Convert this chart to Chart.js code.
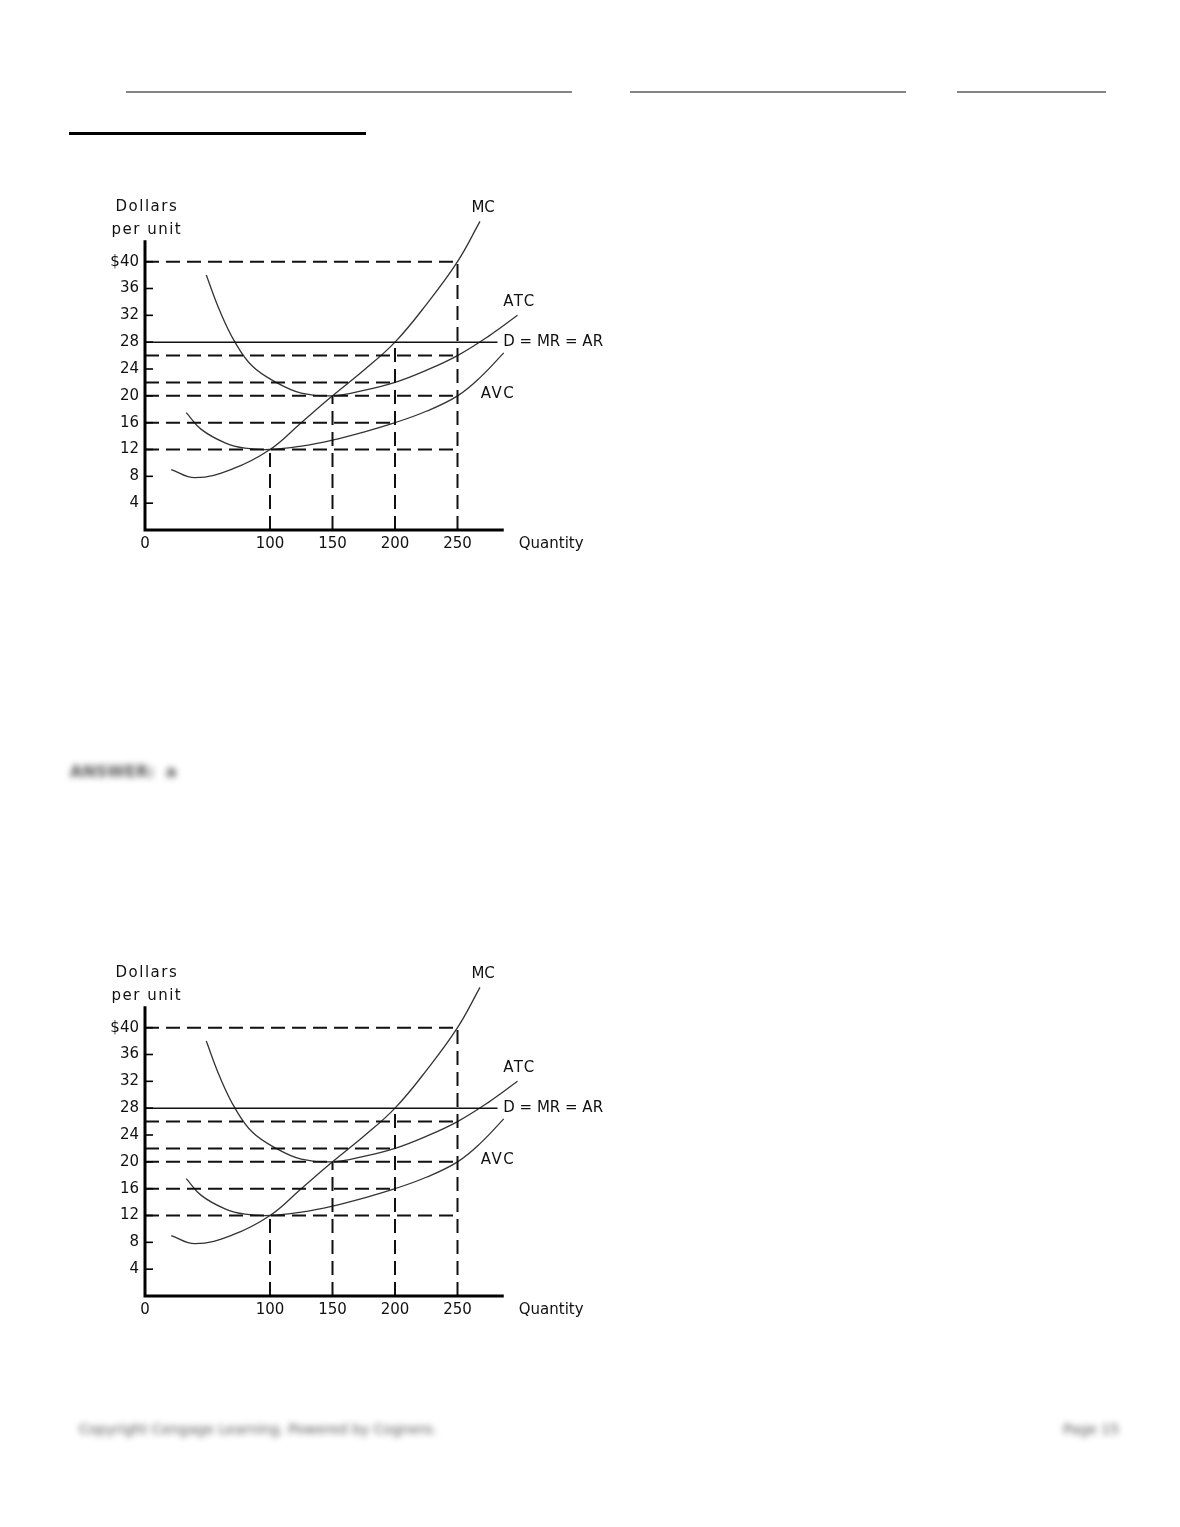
<!DOCTYPE html>
<html>
<head>
<meta charset="utf-8">
<title>Cost curves</title>
<script src="https://cdn.jsdelivr.net/npm/chart.js@4.4.1/dist/chart.umd.min.js"></script>
<style>
  html, body { margin: 0; padding: 0; background: #fff; }
  body { width: 1180px; height: 1527px; position: relative; overflow: hidden; font-family: "DejaVu Sans", sans-serif; }
  .rule { position: absolute; height: 2px; background: #858585; top: 91px; }
  .rule.black { background: #000; top: 132px; left: 69px; width: 297px; height: 3px; }
  canvas.cost { position: absolute; left: 100px; }
  .blur { position: absolute; color: #555; filter: blur(3px); font-size: 14px; white-space: nowrap; }
</style>
</head>
<body>
  <div class="rule" style="left:126px;width:446px;"></div>
  <div class="rule" style="left:630px;width:276px;"></div>
  <div class="rule" style="left:957px;width:149px;"></div>
  <div class="rule black"></div>

  <canvas id="chart-top" class="cost" width="520" height="370" style="top:190px;"></canvas>

  <div class="blur" style="left:70px;top:762px;font-size:16px;font-weight:bold;">ANSWER:&nbsp;&nbsp;a</div>

  <canvas id="chart-bottom" class="cost" width="520" height="370" style="top:956px;"></canvas>

  <div class="blur" style="left:79px;top:1421px;">Copyright Cengage Learning. Powered by Cognero.</div>
  <div class="blur" style="left:1063px;top:1421px;">Page 15</div>

<script>
// Curve readings (quantity, dollars per unit)
const mcQty   = [21, 40, 70, 100, 125, 150, 175, 200, 225, 250, 268];
const mcCost  = [9, 7.8, 9.1, 12, 16, 20, 23.8, 28, 33.6, 40, 46];
const atcQty  = [49, 60, 72, 86, 105, 125, 150, 175, 200, 225, 250, 275, 298];
const atcCost = [38, 32.6, 28, 24.4, 22, 20.4, 20, 20.8, 22, 23.8, 26, 28.9, 32];
const avcQty  = [33, 45, 64, 80, 100, 125, 150, 175, 200, 225, 250, 269, 287];
const avcCost = [17.5, 15, 13, 12.2, 12, 12.5, 13.4, 14.6, 16, 17.7, 20, 22.9, 26.4];

// Price line D = MR = AR
const priceLevel = 28;
const priceEnd = 282;

// Dashed guide lines
const hDashLevels = [40, 26, 22, 20, 16, 12];
const hDashEnds   = [250, 250, 200, 250, 200, 250];
const vDashQty    = [100, 150, 200, 250];
const vDashTops   = [12, 20, 28, 40];

// Axis ticks
const yTicks      = [4, 8, 12, 16, 20, 24, 28, 32, 36, 40];
const yTickLabels = ['4', '8', '12', '16', '20', '24', '28', '32', '36', '$40'];
const xTicks      = [100, 150, 200, 250];
const xTickLabels = ['100', '150', '200', '250'];

const toPoints = (xs, ys) => xs.map((v, i) => ({ x: v, y: ys[i] }));

function buildDatasets() {
    const curve = pts => ({
        data: pts, showLine: true, pointRadius: 0, borderColor: '#333',
        borderWidth: 1.3, tension: 0.4
    });
    const segment = (pts, dashed) => ({
        data: pts, showLine: true, pointRadius: 0, borderColor: '#111',
        borderWidth: dashed ? 2 : 1.5, borderDash: dashed ? [14, 7] : [], tension: 0
    });

    const sets = [];
    hDashLevels.forEach((lvl, i) => sets.push(segment([{ x: 0, y: lvl }, { x: hDashEnds[i], y: lvl }], true)));
    vDashQty.forEach((q, i) => sets.push(segment([{ x: q, y: 0 }, { x: q, y: vDashTops[i] }], true)));
    sets.push(segment([{ x: 0, y: priceLevel }, { x: priceEnd, y: priceLevel }], false));
    sets.push(curve(toPoints(mcQty, mcCost)));
    sets.push(curve(toPoints(atcQty, atcCost)));
    sets.push(curve(toPoints(avcQty, avcCost)));
    return sets;
}

// Axes, ticks and labels drawn off the chart's own scales
const costAxes = {
    id: 'costAxes',
    afterDatasetsDraw(chart) {
        const { ctx, scales: { x, y } } = chart;
        const x0 = x.getPixelForValue(0);
        const y0 = y.getPixelForValue(0);

        ctx.save();
        ctx.strokeStyle = '#000';
        ctx.lineWidth = 3;
        ctx.beginPath();
        ctx.moveTo(x0, y.getPixelForValue(43.2));
        ctx.lineTo(x0, y0);
        ctx.lineTo(x.getPixelForValue(287), y0);
        ctx.stroke();

        ctx.lineWidth = 1.6;
        yTicks.forEach(v => {
            const py = y.getPixelForValue(v);
            ctx.beginPath();
            ctx.moveTo(x0, py);
            ctx.lineTo(x0 + 8, py);
            ctx.stroke();
        });

        ctx.fillStyle = '#111';
        ctx.font = '15px "DejaVu Sans"';
        ctx.textBaseline = 'middle';
        ctx.textAlign = 'right';
        yTicks.forEach((v, i) => ctx.fillText(yTickLabels[i], x0 - 6, y.getPixelForValue(v)));

        ctx.textAlign = 'center';
        xTicks.forEach((v, i) => ctx.fillText(xTickLabels[i], x.getPixelForValue(v), y0 + 14));
        ctx.fillText('0', x0, y0 + 14);

        ctx.textAlign = 'left';
        ctx.fillText('Quantity', x.getPixelForValue(299), y0 + 14);
        ctx.fillText('D = MR = AR', x.getPixelForValue(286.6), y.getPixelForValue(priceLevel));

        ctx.letterSpacing = '1.5px';
        ctx.fillText('ATC', x.getPixelForValue(286.6), y.getPixelForValue(33.9));
        ctx.fillText('AVC', x.getPixelForValue(268.5), y.getPixelForValue(20.3));
        ctx.fillText('Dollars', 15.5, 17.5);
        ctx.fillText('per unit', 11.5, 40);
        ctx.letterSpacing = '0px';
        ctx.textAlign = 'center';
        ctx.fillText('MC', x.getPixelForValue(270.5), y.getPixelForValue(48));
        ctx.restore();
    }
};

function drawCostChart(id) {
    const ctx = document.getElementById(id).getContext('2d');
    return new Chart(ctx, {
        type: 'scatter',
        data: { datasets: buildDatasets() },
        options: {
            responsive: false,
            animation: false,
            layout: { padding: { left: 45, right: 100, top: 18, bottom: 30 } },
            plugins: { legend: { display: false }, tooltip: { enabled: false } },
            scales: {
                x: { type: 'linear', min: 0, max: 300, display: false },
                y: { type: 'linear', min: 0, max: 48, display: false }
            }
        },
        plugins: [costAxes]
    });
}

drawCostChart('chart-top');
drawCostChart('chart-bottom');
</script>
</body>
</html>
